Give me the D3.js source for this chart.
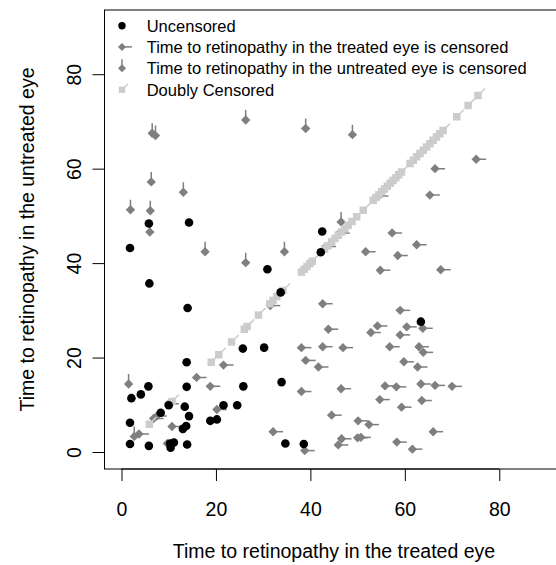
<!DOCTYPE html>
<html><head><meta charset="utf-8">
<script src="https://cdn.jsdelivr.net/npm/d3@7"></script>
<style>
html,body{margin:0;padding:0;background:#fff;}
svg text{font-family:"Liberation Sans",Arial,Helvetica,sans-serif;fill:#000;}
</style></head>
<body><svg id="chart" width="556" height="565"></svg>
<script>
// Uncensored pairs (treated, untreated)
const uncX = [5.8,14.3,1.8,42.5,42.2,30.9,5.9,33.7,14.0,63.4,25.7,30.2,13.8,33.9,5.7,13.8,25.8,4.1,2.1,10.0,13.4,21.6,24.5,8.3,14.3,1.8,18.8,20.2,13.7,13.0,1.8,5.8,10.4,11.1,10.3,13.9,34.7,38.6];
const uncY = [48.4,48.6,43.2,46.7,42.3,38.7,35.7,33.8,30.5,27.6,21.9,22.1,19.0,14.8,13.9,13.8,13.9,12.2,11.4,9.9,9.6,9.9,9.9,8.3,7.6,6.2,6.6,6.9,5.5,4.9,1.7,1.3,0.9,2.0,1.8,1.6,1.8,1.7];
// Treated eye censored
const trtX = [75.1,66.4,65.3,54.4,46.2,57.3,62.5,43.3,51.7,58.5,54.8,67.6,42.6,59.0,43.8,54.2,52.8,60.4,63.8,59.0,42.6,46.9,56.8,63.0,63.9,38.1,39.0,41.7,59.8,62.7,46.5,55.8,58.2,63.4,66.4,70.0,38.1,54.7,63.6,59.3,44.5,50.1,52.4,66.0,50.0,50.7,46.6,45.9,58.3,61.6,38.8,32.1,21.6,15.9,18.8,20.2,10.7,9.7,3.7,6.8,7.5,10.0,31.5];
const trtY = [62.0,60.0,54.4,54.2,46.4,46.4,43.9,43.5,42.4,41.6,38.5,38.6,31.4,30.0,26.0,26.7,25.3,26.5,26.2,24.8,22.3,22.1,22.3,22.3,21.1,22.1,19.4,18.0,19.1,18.0,13.4,14.0,13.8,14.4,14.1,13.9,12.8,11.1,10.9,9.5,7.8,6.6,5.8,4.3,3.0,3.1,2.8,1.5,2.1,0.6,0.3,4.3,18.4,15.8,13.9,9.0,5.4,1.8,3.8,7.1,7.6,10.2,31.0];
// Untreated eye censored
const untX = [6.5,7.2,26.3,39.0,48.9,6.3,13.1,1.9,6.1,6.0,17.7,26.3,34.5,46.5,1.5,2.7];
const untY = [67.5,67.0,70.3,68.5,67.2,57.2,55.0,51.3,51.1,46.6,42.4,40.1,42.4,48.7,14.4,3.3];
// Doubly censored
const dblX = [5.9,10.7,19.0,20.6,23.3,26.0,26.6,29.0,31.4,32.1,32.9,34.2,38.1,38.7,39.3,39.9,40.4,43.0,43.7,44.5,45.2,45.9,46.6,47.3,48.0,48.8,49.8,51.2,53.3,53.9,54.5,55.1,55.7,56.3,56.9,57.5,58.1,58.7,59.3,61.1,61.8,62.5,63.2,63.9,64.6,65.3,66.0,66.7,67.4,68.1,71.0,73.4,75.5];
const dblY = dblX.slice();
const ticks = [0,20,40,60,80];
const legendLabels = ["Uncensored","Time to retinopathy in the treated eye is censored","Time to retinopathy in the untreated eye is censored","Doubly Censored"];

const svg = d3.select("#chart");
const L = {left:104.5, right:563.5, top:10, bottom:469};
const x = d3.scaleLinear().domain([-3.6,93.6]).range([L.left,L.right]);
const y = d3.scaleLinear().domain([-3.6,93.6]).range([L.bottom,L.top]);
const GRAY = "#7f7f7f", LIGHT = "#cccccc";

svg.append("clipPath").attr("id","clip").append("rect")
  .attr("x",L.left).attr("y",L.top).attr("width",L.right-L.left).attr("height",L.bottom-L.top);
const plot = svg.append("g").attr("clip-path","url(#clip)");

const diamond = d3.symbol().type(d3.symbolSquare).size(44)();
const square = d3.symbol().type(d3.symbolSquare).size(56)();

// treated-censored diamonds
const trt = d3.range(trtX.length);
plot.append("g").selectAll("line").data(trt).join("line")
  .attr("x1",i=>x(trtX[i])).attr("y1",i=>y(trtY[i]))
  .attr("x2",i=>x(trtX[i])+10).attr("y2",i=>y(trtY[i]))
  .attr("stroke",GRAY).attr("stroke-width",1.5);
plot.append("g").selectAll("path").data(trt).join("path")
  .attr("d",diamond).attr("fill",GRAY)
  .attr("transform",i=>`translate(${x(trtX[i])},${y(trtY[i])}) rotate(45)`);
// untreated-censored diamonds
const unt = d3.range(untX.length);
plot.append("g").selectAll("line").data(unt).join("line")
  .attr("x1",i=>x(untX[i])).attr("y1",i=>y(untY[i]))
  .attr("x2",i=>x(untX[i])).attr("y2",i=>y(untY[i])-10)
  .attr("stroke",GRAY).attr("stroke-width",1.5);
plot.append("g").selectAll("path").data(unt).join("path")
  .attr("d",diamond).attr("fill",GRAY)
  .attr("transform",i=>`translate(${x(untX[i])},${y(untY[i])}) rotate(45)`);
// doubly censored
const dbl = d3.range(dblX.length);
plot.append("g").selectAll("line").data(dbl).join("line")
  .attr("x1",i=>x(dblX[i])).attr("y1",i=>y(dblY[i]))
  .attr("x2",i=>x(dblX[i])+7).attr("y2",i=>y(dblY[i])-7)
  .attr("stroke",LIGHT).attr("stroke-width",1.5);
plot.append("g").selectAll("path").data(dbl).join("path")
  .attr("d",square).attr("fill",LIGHT)
  .attr("transform",i=>`translate(${x(dblX[i])},${y(dblY[i])})`);
// uncensored
const unc = d3.range(uncX.length);
plot.append("g").selectAll("circle").data(unc).join("circle")
  .attr("cx",i=>x(uncX[i])).attr("cy",i=>y(uncY[i])).attr("r",4.3).attr("fill","#000");

// box
svg.append("rect").attr("x",L.left).attr("y",L.top).attr("width",L.right-L.left).attr("height",L.bottom-L.top)
  .attr("fill","none").attr("stroke","#000").attr("stroke-width",1);

// axes
const LH = 23.4, FS = 19.5;
const xa = svg.append("g").attr("transform",`translate(0,${L.bottom})`)
  .call(d3.axisBottom(x).tickValues(ticks).tickSize(12).tickPadding(0).tickSizeOuter(0));
xa.select(".domain").attr("d",`M${x(0)},0H${x(80)}`);
xa.selectAll("text").attr("dy",null).attr("y",2*LH).style("font-size",FS+"px").attr("font-family",null);
const ya = svg.append("g").attr("transform",`translate(${L.left},0)`)
  .call(d3.axisLeft(y).tickValues(ticks).tickSize(12).tickSizeOuter(0));
ya.select(".domain").attr("d",`M0,${y(0)}V${y(80)}`);
ya.selectAll(".tick text").attr("x",null).attr("dy",null).attr("text-anchor","middle")
  .attr("transform",`translate(${-LH},0) rotate(-90)`).style("font-size",FS+"px").attr("font-family",null);
svg.selectAll(".tick line").attr("stroke","#000");

svg.append("text").attr("x",(L.left+L.right)/2).attr("y",558).attr("text-anchor","middle")
  .style("font-size",FS+"px").text("Time to retinopathy in the treated eye");
svg.append("text").attr("transform",`translate(${L.left-3*LH},${(L.top+L.bottom)/2}) rotate(-90)`)
  .attr("text-anchor","middle").style("font-size",FS+"px").text("Time to retinopathy in the untreated eye");

// legend
const lg = svg.append("g");
const rowY = [25.8,46.9,68.3,89.8];
const sx = 122;
lg.append("circle").attr("cx",sx).attr("cy",rowY[0]).attr("r",3.7).attr("fill","#000");
lg.append("line").attr("x1",sx).attr("x2",sx+10).attr("y1",rowY[1]).attr("y2",rowY[1]).attr("stroke",GRAY).attr("stroke-width",1.5);
lg.append("path").attr("d",d3.symbol().type(d3.symbolSquare).size(32)()).attr("fill",GRAY).attr("transform",`translate(${sx},${rowY[1]}) rotate(45)`);
lg.append("line").attr("x1",sx).attr("x2",sx).attr("y1",rowY[2]).attr("y2",rowY[2]-9).attr("stroke",GRAY).attr("stroke-width",1.5);
lg.append("path").attr("d",d3.symbol().type(d3.symbolSquare).size(32)()).attr("fill",GRAY).attr("transform",`translate(${sx},${rowY[2]}) rotate(45)`);
lg.append("line").attr("x1",sx).attr("x2",sx+6).attr("y1",rowY[3]).attr("y2",rowY[3]-6).attr("stroke",LIGHT).attr("stroke-width",1.5);
lg.append("path").attr("d",d3.symbol().type(d3.symbolSquare).size(40)()).attr("fill",LIGHT).attr("transform",`translate(${sx},${rowY[3]})`);
lg.selectAll("text.leg").data(legendLabels).join("text").attr("class","leg")
  .attr("x",146.7).attr("y",(d,i)=>rowY[i]+6).style("font-size","16.5px").text(d=>d);
</script></body></html>
